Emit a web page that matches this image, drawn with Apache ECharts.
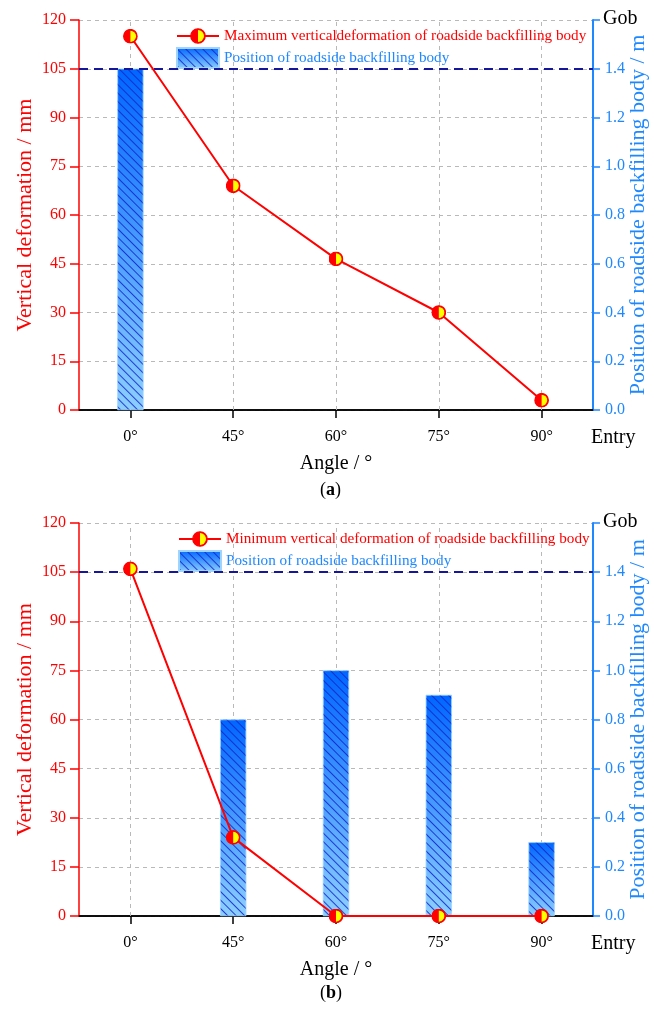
<!DOCTYPE html>
<html>
<head>
<meta charset="utf-8">
<title>Roadside backfilling body deformation</title>
<script src="https://cdn.jsdelivr.net/npm/echarts@6/dist/echarts.min.js"></script>
<style>
  html, body { margin: 0; padding: 0; background: #ffffff; }
  #chart { width: 654px; height: 1010px; }
</style>
</head>
<body>
<div id="chart"></div>
<script>
// Angle categories along the horizontal axis
const angles = ['0°', '45°', '60°', '75°', '90°'];

// (a) maximum vertical deformation of the roadside backfilling body, mm
const maxDeformation = [115, 69, 46.5, 30, 3];
// (b) minimum vertical deformation of the roadside backfilling body, mm
const minDeformation = [106, 24, 0, 0, 0];

// Position of the roadside backfilling body, m (null = no body at that angle)
const bodyPositionA = [1.4, null, null, null, null];
const bodyPositionB = [null, 0.8, 1.0, 0.9, 0.3];

// Gob-side reference level, m
const gobLevel = 1.4;

// Axis ranges
const deformAxis = { min: 0, max: 120, interval: 15 };
const positionAxis = { min: 0, max: 1.6, interval: 0.2 };

const maxName = 'Maximum verticaldeformation of roadside backfilling body';
const minName = 'Minimum vertical deformation of roadside backfilling body';
const bodyName = 'Position of roadside backfilling body';

const SERIF = "'Liberation Serif', 'Times New Roman', serif";
const RED = '#ff0000';
const BLUE = '#1e88ff';
const NAVY = '#16169a';
const GRIDLINE = '#b9b9b9';

// Half red / half yellow marker
const markerSvg = "<svg xmlns='http://www.w3.org/2000/svg' width='28' height='28'>" +
  "<circle cx='14' cy='14' r='12.5' fill='#ff0000'/>" +
  "<path d='M14 3.5A10.5 10.5 0 0 1 14 24.5Z' fill='#ffff00'/>" +
  "<circle cx='14' cy='14' r='12.5' fill='none' stroke='#ff0000' stroke-width='2.5'/></svg>";
const markerSymbol = 'image://data:image/svg+xml;charset=utf-8,' + encodeURIComponent(markerSvg);

const barStyle = {
  color: {
    type: 'linear', x: 0, y: 0, x2: 0, y2: 1,
    colorStops: [
      { offset: 0, color: '#0066ff' },
      { offset: 1, color: '#8ccfff' }
    ]
  },
  borderColor: '#9fd4ff',
  borderWidth: 0.5,
  decal: {
    symbol: 'rect',
    color: 'rgba(20, 36, 200, 0.85)',
    dashArrayX: [1, 0],
    dashArrayY: [1, 4.2],
    rotation: Math.PI / 4,
    symbolSize: 1
  }
};

const grids = [
  { left: 79, top: 20, width: 514, height: 390, outerBoundsMode: 'none', containLabel: false },
  { left: 79, top: 523, width: 514, height: 393, outerBoundsMode: 'none', containLabel: false }
];

function bottomX(gi) {
  return {
    type: 'category', gridIndex: gi, data: angles, position: 'bottom',
    axisLine: { show: true, lineStyle: { color: '#000', width: 1.5 } },
    axisTick: { show: true, alignWithLabel: true, length: 8, lineStyle: { color: '#000', width: 1.5 } },
    axisLabel: { color: '#000', fontSize: 16, fontFamily: SERIF, margin: 19 },
    splitLine: { show: false },
    name: 'Angle / °', nameLocation: 'middle', nameGap: 44,
    nameTextStyle: { color: '#000', fontSize: 20, fontFamily: SERIF }
  };
}
function topX(gi) {
  return {
    type: 'category', gridIndex: gi, data: angles, position: 'top',
    axisLine: { show: true, lineStyle: { color: '#000', width: 1.5 } },
    axisTick: { show: false }, axisLabel: { show: false }, splitLine: { show: false }
  };
}
function leftY(gi) {
  return {
    type: 'value', gridIndex: gi, position: 'left',
    min: deformAxis.min, max: deformAxis.max, interval: deformAxis.interval,
    axisLine: { show: true, lineStyle: { color: RED, width: 1.5 } },
    axisTick: { show: true, length: 9, lineStyle: { color: RED, width: 1.5 } },
    axisLabel: { color: RED, fontSize: 16, fontFamily: SERIF, margin: 13 },
    splitLine: { show: true, lineStyle: { color: GRIDLINE, type: [4, 4], width: 1 } },
    name: 'Vertical deformation / mm', nameLocation: 'middle', nameRotate: 90,
    nameGap: 43, nameMoveOverlap: false,
    nameTextStyle: { color: RED, fontSize: 22, fontFamily: SERIF }
  };
}
function rightY(gi) {
  return {
    type: 'value', gridIndex: gi, position: 'right',
    min: positionAxis.min, max: positionAxis.max, interval: positionAxis.interval,
    axisLine: { show: true, lineStyle: { color: BLUE, width: 2 } },
    axisTick: { show: true, length: 7, lineStyle: { color: BLUE, width: 1.5 } },
    axisLabel: {
      color: BLUE, fontSize: 16, fontFamily: SERIF, margin: 12,
      formatter: v => (Math.abs(v - positionAxis.max) < 1e-9 ? '' : v.toFixed(1))
    },
    splitLine: { show: false },
    name: 'Position of roadside backfilling body / m', nameLocation: 'middle', nameRotate: 90,
    nameGap: 34, nameMoveOverlap: false,
    nameTextStyle: { color: BLUE, fontSize: 22, fontFamily: SERIF }
  };
}

function panelSeries(gi, lineName, lineData, barData) {
  const xi = gi * 2;       // bottom category axis of this panel
  const yl = gi * 2;       // left value axis
  const yr = gi * 2 + 1;   // right value axis
  return [
    {
      // vertical dashed guides at each angle, kept beneath the bars
      type: 'line', xAxisIndex: xi, yAxisIndex: yl, data: [], z: 1, silent: true,
      markLine: {
        z: 1, silent: true, symbol: 'none', label: { show: false },
        lineStyle: { color: GRIDLINE, type: [4, 4], width: 1 },
        data: angles.map(a => ({ xAxis: a }))
      }
    },
    {
      name: bodyName, type: 'bar', xAxisIndex: xi, yAxisIndex: yr,
      data: barData, barWidth: 26, z: 3, itemStyle: barStyle,
      markLine: {
        z: 4, silent: true, symbol: 'none', label: { show: false },
        lineStyle: { color: NAVY, type: [9, 6], width: 1.8 },
        data: [{ yAxis: gobLevel }]
      }
    },
    {
      name: lineName, type: 'line', xAxisIndex: xi, yAxisIndex: yl,
      data: lineData, z: 5,
      symbol: markerSymbol, symbolSize: 15, showAllSymbol: true,
      lineStyle: { color: RED, width: 2 },
      itemStyle: { color: RED }
    }
  ];
}

function panelLegend(gi, lineName, left, top) {
  return {
    orient: 'vertical', left: left, top: top,
    itemWidth: 42, itemHeight: 20, itemGap: 3,
    textStyle: { fontSize: 15.2, fontFamily: SERIF },
    selectedMode: false,
    data: [
      { name: lineName, textStyle: { color: RED } },
      { name: bodyName, icon: 'rect', textStyle: { color: BLUE } }
    ]
  };
}

function sideText(x, y, text) {
  return {
    type: 'text', left: x, top: y,
    style: { text: text, fill: '#000', font: '20px ' + SERIF }
  };
}

const chart = echarts.init(document.getElementById('chart'), null, { renderer: 'canvas' });

chart.setOption({
  backgroundColor: '#ffffff',
  animation: false,
  grid: grids,
  xAxis: [bottomX(0), topX(0), bottomX(1), topX(1)],
  yAxis: [leftY(0), rightY(0), leftY(1), rightY(1)],
  legend: [
    panelLegend(0, maxName, 171, 23),
    panelLegend(1, minName, 173, 526)
  ],
  series: [
    ...panelSeries(0, maxName, maxDeformation, bodyPositionA),
    ...panelSeries(1, minName, minDeformation, bodyPositionB)
  ],
  graphic: [
    sideText(603, 9, 'Gob'),
    sideText(591, 428, 'Entry'),
    sideText(603, 512, 'Gob'),
    sideText(591, 934, 'Entry'),
    {
      type: 'text', left: 320, top: 481,
      style: {
        text: '({b|a})', fill: '#000', font: '18px ' + SERIF,
        rich: { b: { fontWeight: 'bold', fontSize: 18, fontFamily: SERIF, fill: '#000' } }
      }
    },
    {
      type: 'text', left: 320, top: 984,
      style: {
        text: '({b|b})', fill: '#000', font: '18px ' + SERIF,
        rich: { b: { fontWeight: 'bold', fontSize: 18, fontFamily: SERIF, fill: '#000' } }
      }
    }
  ]
});
</script>
</body>
</html>
